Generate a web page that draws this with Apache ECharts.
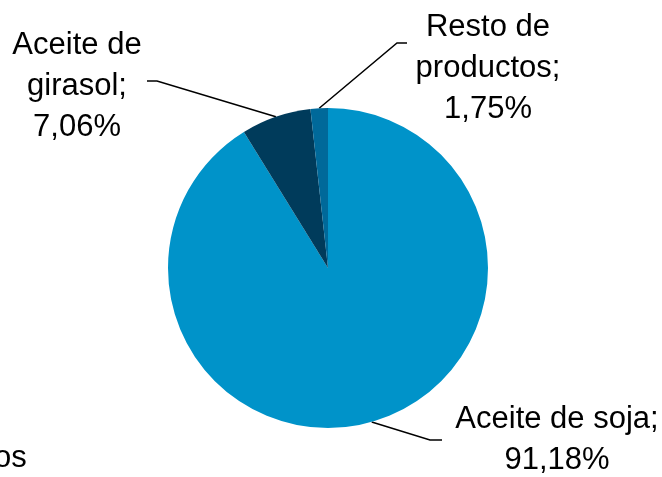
<!DOCTYPE html>
<html>
<head>
<meta charset="utf-8">
<script src="https://cdn.jsdelivr.net/npm/echarts@6/dist/echarts.min.js"></script>
<style>
  html, body { margin: 0; padding: 0; background: #fff; }
  #chart { width: 662px; height: 477px; }
</style>
</head>
<body>
<div id="chart"></div>
<script>
// datos del gráfico
var categorias = ['Aceite de soja', 'Aceite de\ngirasol', 'Resto de\nproductos'];
var porcentajes = [91.18, 7.06, 1.75];
var colores = ['#0093c9', '#003b5b', '#00699a'];

// posición de cada etiqueta y su línea guía
var etiquetas = [
  { x: 557, y: 440, codo: [430, 440], fin: [442, 440] },
  { x: 77, y: 86, codo: [157, 81], fin: [147, 81] },
  { x: 488, y: 68, codo: [397, 43], fin: [407, 43] }
];

var chart = echarts.init(document.getElementById('chart'));

var datos = categorias.map(function (nombre, i) {
  return { name: nombre, value: porcentajes[i], itemStyle: { color: colores[i] } };
});

chart.setOption({
  animation: false,
  graphic: [{
    type: 'text',
    style: {
      text: 'os',
      x: -6,
      y: 458,
      verticalAlign: 'middle',
      font: '31px "Liberation Sans", Arial, sans-serif',
      fill: '#000'
    }
  }],
  series: [{
    type: 'pie',
    center: [328, 268],
    radius: 160,
    startAngle: 90,
    clockwise: true,
    data: datos,
    label: {
      show: true,
      position: 'outside',
      overflow: 'none',
      color: '#000',
      fontFamily: '"Liberation Sans", Arial, sans-serif',
      fontSize: 31,
      lineHeight: 41,
      align: 'center',
      formatter: function (p) {
        return p.name + ';\n' + p.value.toFixed(2).replace('.', ',') + '%';
      }
    },
    labelLine: {
      show: true,
      lineStyle: { color: '#000', width: 1.5 }
    },
    labelLayout: function (params) {
      var e = etiquetas[params.dataIndex];
      var inicio = params.labelLinePoints[0];
      return {
        x: e.x,
        y: e.y,
        align: 'center',
        verticalAlign: 'middle',
        labelLinePoints: [inicio, e.codo, e.fin]
      };
    },
    emphasis: { disabled: true }
  }]
});
</script>
</body>
</html>
